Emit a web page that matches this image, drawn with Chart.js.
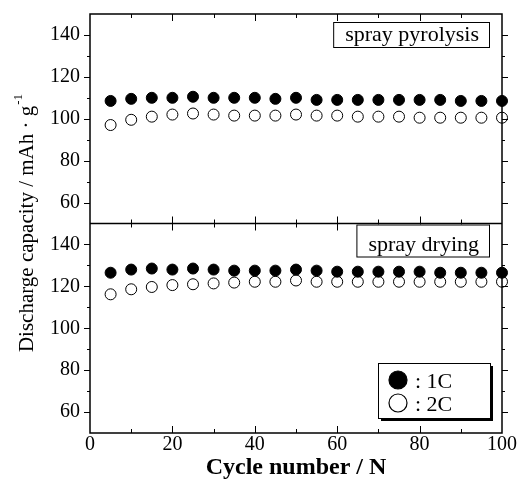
<!DOCTYPE html>
<html>
<head>
<meta charset="utf-8">
<script src="https://cdn.jsdelivr.net/npm/chart.js@4.4.0/dist/chart.umd.min.js"></script>
<style>
  html, body { margin: 0; padding: 0; background: #fff; }
  #wrap { width: 524px; height: 491px; }
</style>
</head>
<body>
<div id="wrap"><canvas id="myChart" width="524" height="491"></canvas></div>
<script>
// ciclos e capacidades
var cycles = [5, 10, 15, 20, 25, 30, 35, 40, 45, 50, 55, 60, 65, 70, 75, 80, 85, 90, 95, 100];
var pyrolysis1C = [108.5, 109.5, 110, 110, 110.5, 110, 110, 110, 109.5, 110, 109, 109, 109, 109, 109, 109, 109, 108.5, 108.5, 108.5];
var pyrolysis2C = [97, 99.5, 101, 102, 102.5, 102, 101.5, 101.5, 101.5, 102, 101.5, 101.5, 101, 101, 101, 100.5, 100.5, 100.5, 100.5, 100.5];
var drying1C = [126.5, 128, 128.5, 128, 128.5, 128, 127.5, 127.5, 127.5, 128, 127.5, 127, 127, 127, 127, 127, 126.5, 126.5, 126.5, 126.5];
var drying2C = [116.2, 118.6, 119.7, 120.6, 121, 121.4, 121.8, 122.2, 122.2, 122.8, 122.2, 122.2, 122.2, 122.2, 122.2, 122.2, 122.2, 122.2, 122.2, 122.2];
var yTickLabels = [60, 80, 100, 120, 140];
var xTickLabels = [0, 20, 40, 60, 80, 100];
var panelNames = ['spray pyrolysis', 'spray drying'];
var legendNames = [': 1C', ': 2C'];

var serif = '"Liberation Serif", "DejaVu Serif", serif';

function pts(ys) {
    return cycles.map(function (c, i) { return { x: c, y: ys[i] }; });
}

function serie(ys, axis, filled) {
    return {
        data: pts(ys),
        yAxisID: axis,
        pointRadius: 5.5,
        pointHoverRadius: 5.5,
        pointBackgroundColor: filled ? '#000' : '#fff',
        pointBorderColor: '#000',
        pointBorderWidth: 1,
        showLine: false,
        clip: false
    };
}

// moldura, ticks para dentro/fora, caixas de texto e legenda
var molduraPlugin = {
    id: 'moldura',
    afterDraw: function (chart) {
        var ctx = chart.ctx;
        var a = chart.chartArea;
        var x = chart.scales.x;
        var panels = [chart.scales.yTop, chart.scales.yBot];
        ctx.save();
        ctx.strokeStyle = '#000';
        ctx.lineWidth = 1.5;
        ctx.strokeRect(a.left, a.top, a.right - a.left, a.bottom - a.top);
        ctx.beginPath();
        ctx.moveTo(a.left, panels[0].bottom);
        ctx.lineTo(a.right, panels[0].bottom);
        ctx.stroke();

        ctx.lineWidth = 1;
        ctx.beginPath();
        panels.forEach(function (s) {
            for (var v = 60; v <= 140; v += 10) {
                var py = Math.round(s.getPixelForValue(v)) + 0.5;
                var len = (v % 20 === 0) ? 6 : 3;
                ctx.moveTo(a.left - len, py); ctx.lineTo(a.left, py);
                ctx.moveTo(a.right, py); ctx.lineTo(a.right + len, py);
            }
            for (var c = 10; c <= 90; c += 10) {
                var px = Math.round(x.getPixelForValue(c)) + 0.5;
                var l2 = (c % 20 === 0) ? 7 : 4;
                ctx.moveTo(px, s.top); ctx.lineTo(px, s.top + l2);
                ctx.moveTo(px, s.bottom); ctx.lineTo(px, s.bottom - l2);
            }
        });
        ctx.stroke();

        // caixas com o nome do processo
        ctx.font = '22px ' + serif;
        ctx.textBaseline = 'alphabetic';
        ctx.fillStyle = '#000';
        var boxes = [
            { s: panels[0], top: 8, h: 25 },
            { s: panels[1], top: 1, h: 32 }
        ];
        boxes.forEach(function (b, i) {
            var w = ctx.measureText(panelNames[i]).width + 22;
            var bx = a.right - 13 - w;
            var by = b.s.top + b.top;
            ctx.fillStyle = '#fff';
            ctx.fillRect(bx, by, w, b.h);
            ctx.lineWidth = 1;
            ctx.strokeRect(bx + 0.5, by + 0.5, w, b.h);
            ctx.fillStyle = '#000';
            ctx.fillText(panelNames[i], bx + 12, by + b.h - 6);
        });

        // legenda com sombra
        var lx = a.right - 124, ly = panels[1].bottom - 70, lw = 112, lh = 55;
        ctx.fillStyle = '#000';
        ctx.fillRect(lx + 3, ly + 3, lw, lh);
        ctx.fillStyle = '#fff';
        ctx.fillRect(lx, ly, lw, lh);
        ctx.strokeRect(lx + 0.5, ly + 0.5, lw, lh);
        ctx.lineWidth = 1.2;
        [true, false].forEach(function (filled, i) {
            var cy = ly + 17 + i * 23;
            ctx.beginPath();
            ctx.arc(lx + 20, cy, 9, 0, Math.PI * 2);
            ctx.fillStyle = filled ? '#000' : '#fff';
            ctx.fill();
            ctx.stroke();
            ctx.fillStyle = '#000';
            ctx.fillText(legendNames[i], lx + 37, cy + 8);
        });

        // titulo do eixo y com expoente
        ctx.translate(21, (a.top + a.bottom) / 2);
        ctx.rotate(-Math.PI / 2);
        ctx.font = '21px ' + serif;
        var t1 = 'Discharge capacity / mAh \u00b7 g';
        var w1 = ctx.measureText(t1).width;
        ctx.font = '13px ' + serif;
        var w2 = ctx.measureText('-1').width;
        var sx = -(w1 + w2) / 2;
        ctx.font = '21px ' + serif;
        ctx.textBaseline = 'middle';
        ctx.fillText(t1, sx, 6);
        ctx.font = '13px ' + serif;
        ctx.fillText('-1', sx + w1 + 1, -2);
        ctx.restore();
    }
};

function eixoY() {
    return {
        type: 'linear',
        position: 'left',
        stack: 'painel',
        stackWeight: 1,
        min: 50,
        max: 150,
        afterFit: function (s) {
            s.width = 90;
            s.paddingTop = 0;
            s.paddingBottom = 0;
        },
        afterBuildTicks: function (s) {
            s.ticks = yTickLabels.map(function (v) { return { value: v }; });
        },
        grid: { display: false, drawTicks: false },
        border: { display: false },
        ticks: {
            padding: 10,
            color: '#000',
            font: { family: serif, size: 20 }
        }
    };
}

var ctx = document.getElementById('myChart').getContext('2d');
var myChart = new Chart(ctx, {
    type: 'scatter',
    data: {
        datasets: [
            serie(pyrolysis1C, 'yTop', true),
            serie(pyrolysis2C, 'yTop', false),
            serie(drying1C, 'yBot', true),
            serie(drying2C, 'yBot', false)
        ]
    },
    options: {
        responsive: false,
        animation: false,
        layout: { padding: { top: 14, right: 22, left: 0, bottom: 0 } },
        plugins: {
            legend: { display: false },
            tooltip: { enabled: false }
        },
        scales: {
            x: {
                type: 'linear',
                min: 0,
                max: 100,
                afterFit: function (s) {
                    s.height = 58;
                    s.paddingLeft = 0;
                    s.paddingRight = 0;
                },
                afterBuildTicks: function (s) {
                    s.ticks = xTickLabels.map(function (v) { return { value: v }; });
                },
                grid: { display: false, drawTicks: false },
                border: { display: false },
                ticks: {
                    padding: 0,
                    maxRotation: 0,
                    color: '#000',
                    font: { family: serif, size: 20 }
                },
                title: {
                    display: true,
                    text: 'Cycle number / N',
                    color: '#000',
                    padding: { top: 0, bottom: 9 },
                    font: { family: serif, size: 24, weight: 'bold' }
                }
            },
            yBot: eixoY(),
            yTop: eixoY()
        }
    },
    plugins: [molduraPlugin]
});
</script>
</body>
</html>
